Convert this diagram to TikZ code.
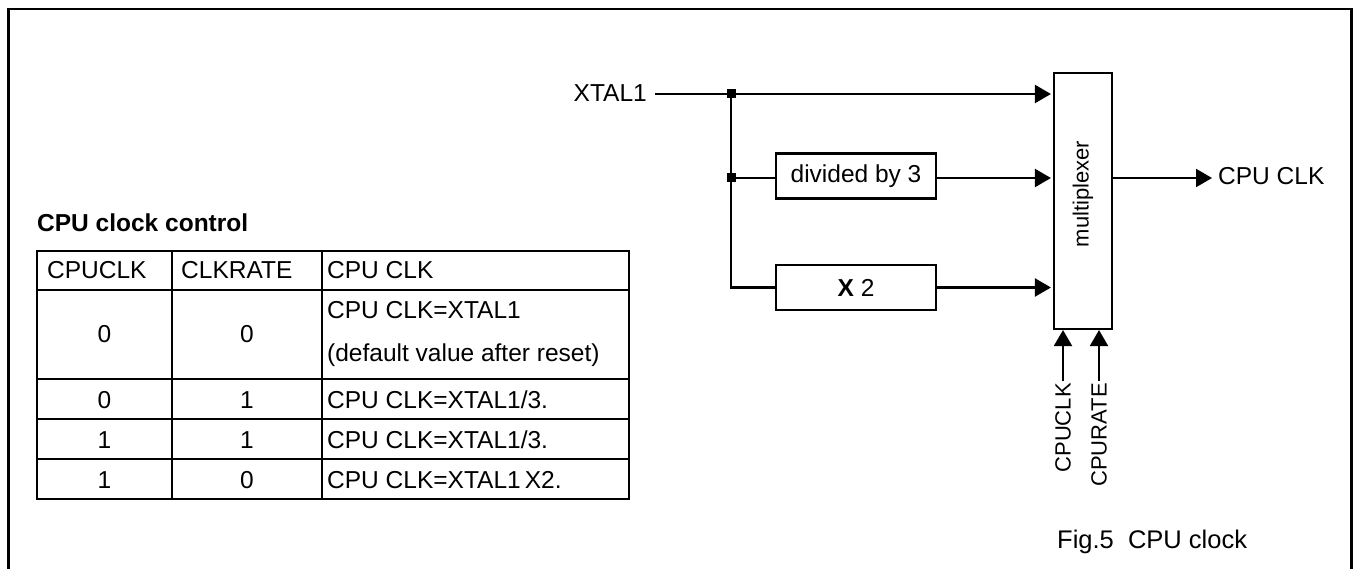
\documentclass[tikz,border=0pt]{standalone}
\usepackage{fontspec}
\setmainfont{Liberation Sans}
\usetikzlibrary{arrows.meta}
\begin{document}
\begin{tikzpicture}[x=1pt,y=-1pt,
  every node/.style={font=\fontsize{24.5}{29}\selectfont, inner sep=0pt},
  wire/.style={line width=2.1pt},
  arr/.style={wire,-{Triangle[length=16pt,width=18pt]}},
  box/.style={draw, line width=2.1pt, inner sep=0pt},
  dot/.style={fill, minimum size=9pt, inner sep=0pt},
  lbl/.style={font=\fontsize{22}{26}\selectfont},
  tline/.style={line width=2pt}]
\useasboundingbox (0,0) rectangle (1355,569);
% frame
\draw[line width=2.7pt] (8.5,575) -- (8.5,9) -- (1351.5,9) -- (1351.5,575);

% table
\node[anchor=base west] (title) at (37,232) {\bfseries CPU clock control};
\draw[tline] (37,251) rectangle (629,499);
\draw[tline] (37,290) -- (629,290);
\draw[tline] (37,379) -- (629,379);
\draw[tline] (37,419) -- (629,419);
\draw[tline] (37,459) -- (629,459);
\draw[tline] (172,251) -- (172,499);
\draw[tline] (322,251) -- (322,499);
\node[anchor=base west] (h1) at (47,279) {CPUCLK};
\node[anchor=base west] (h2) at (181,279) {CLKRATE};
\node[anchor=base west] (h3) at (327,279) {CPU CLK};
\node[anchor=base] (a1) at (104.5,343) {0};
\node[anchor=base] (a2) at (247,343) {0};
\node[anchor=base west] (a3) at (327,319) {CPU CLK=XTAL1};
\node[anchor=base west] (a4) at (327,362) {(default value after reset)};
\node[anchor=base] (b1) at (104.5,408) {0};
\node[anchor=base] (b2) at (247,408) {1};
\node[anchor=base west] (b3) at (327,408) {CPU CLK=XTAL1/3.};
\node[anchor=base] (c1) at (104.5,448) {1};
\node[anchor=base] (c2) at (247,448) {1};
\node[anchor=base west] (c3) at (327,448) {CPU CLK=XTAL1/3.};
\node[anchor=base] (d1) at (104.5,488) {1};
\node[anchor=base] (d2) at (247,488) {0};
\node[anchor=base west] (d3) at (327,488) {CPU CLK=XTAL1\,X2.};

% block diagram
\node[anchor=base east] (xtal) at (647,102) {XTAL1};
\coordinate (xin) at (655,94);
\node[box, minimum width=58pt, minimum height=256pt] (mux) at (1083,201) {};
\node[lbl, rotate=90] (muxl) at (1083,194) {multiplexer};
\node[box, minimum width=160pt, minimum height=45pt] (div) at (856,176) {divided by 3};
\node[box, minimum width=160pt, minimum height=45pt] (x2) at (856,287.5) {\textbf{X} 2};
\node[dot] (j1) at (731,94) {};
\node[dot] (j2) at (731,178) {};

\draw[arr, shorten >=2pt] (xin) -- (xin -| mux.west);
\draw[wire] (j1.center) -- (j1.center |- x2.west) -- (x2.west);
\draw[wire] (j2.center) -- (j2 -| div.west);
\draw[arr, shorten >=2pt] (j2 -| div.east) -- (j2 -| mux.west);
\draw[arr, shorten >=2pt] (x2.east) -- (x2.east -| mux.west);

\node[anchor=base west] (cpuclk) at (1218,185) {CPU CLK};
\draw[arr, shorten >=6pt] (j2 -| mux.east) -- (j2 -| cpuclk.west);

\node[lbl, rotate=90, anchor=east] (lclk) at (1063,383) {CPUCLK};
\node[lbl, rotate=90, anchor=east] (lrate) at (1099,383) {CPURATE};
\draw[arr, shorten <=2pt] (lclk.east) -- (lclk.east |- mux.south);
\draw[arr, shorten <=2pt] (lrate.east) -- (lrate.east |- mux.south);

\node[anchor=base west, font=\fontsize{25.5}{30}\selectfont] (fig) at (1057,548) {Fig.5\ \ CPU clock};
\end{tikzpicture}
\end{document}
